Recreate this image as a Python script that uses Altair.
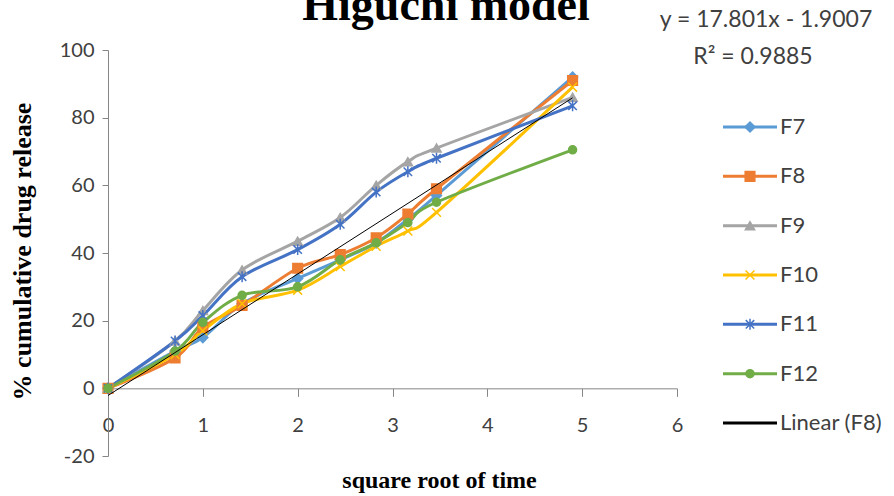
import altair as alt
import pandas as pd

# square root of time
x_vals = [0, 0.707, 1, 1.414, 2, 2.449, 2.828, 3.162, 3.464, 4.899]

F7 = [0, 11, 15, 25, 32.5, 38, 43, 50, 57, 92]
F8 = [0, 9, 18, 24.5, 35.5, 39.5, 44.5, 51.5, 59, 91]
F9 = [0, 14, 23, 35, 43.5, 50.5, 60, 67, 71, 86]
F10 = [0, 10, 17, 25, 29, 36, 42, 46.5, 52, 89]
F11 = [0, 14, 21.5, 33, 41, 48.5, 58, 64, 68, 83.5]
F12 = [0, 11, 19.5, 27.5, 30, 38, 43, 49, 55, 70.5]

series_names = ["F7", "F8", "F9", "F10", "F11", "F12"]
series_values = [F7, F8, F9, F10, F11, F12]
colors = ["#5B9BD5", "#ED7D31", "#A5A5A5", "#FFC000", "#4472C4", "#70AD47"]
shapes = ["diamond", "square", "triangle-up",
          "M-1,-1L1,1M1,-1L-1,1",
          "M-1,-1L1,1M1,-1L-1,1M0,-1.3L0,1.3",
          "circle"]
sizes = [100, 64, 85, 110, 120, 85]

legend_names = series_names + ["Linear (F8)"]
legend_colors = colors + ["#000000"]
legend_widths = [3, 3, 3, 3, 3, 3, 1]

eq_text = "y = 17.801x - 1.9007"
r2_text = "R² = 0.9885"

x_ticks = [0, 1, 2, 3, 4, 5, 6]
y_ticks = [-20, 0, 20, 40, 60, 80, 100]

rows = []
for name, vals in zip(series_names, series_values):
    for xv, yv in zip(x_vals, vals):
        rows.append({"series": name, "x": xv, "y": yv})
df = pd.DataFrame(rows)
leg_df = pd.DataFrame({"name": legend_names})

W, H = 569, 406
LABEL_FONT = "Lato"
AXIS_COLOR = "#868686"
TEXT_COLOR = "#404040"

color_scale = alt.Scale(domain=series_names, range=colors)
shape_scale = alt.Scale(domain=series_names, range=shapes)
size_scale = alt.Scale(domain=series_names, range=sizes)

X = alt.X("x:Q", scale=alt.Scale(domain=[0, 6], nice=False, zero=False),
          axis=alt.Axis(values=x_ticks, offset=-67.67, labelExpr="datum.value + ''", grid=False,
                        domainColor=AXIS_COLOR, tickColor=AXIS_COLOR, tickSize=8,
                        labelFont=LABEL_FONT, labelFontSize=20, labelColor=TEXT_COLOR,
                        labelBaseline="middle", labelPadding=29, labelFlush=False,
                        title="square root of time", titleFont="Liberation Serif",
                        titleFontWeight="bold", titleFontSize=24, titleColor="#000000",
                        titleX=331, titleY=92, titleAlign="center", titleBaseline="middle"))
Y = alt.Y("y:Q", scale=alt.Scale(domain=[-20, 100], nice=False, zero=False),
          axis=alt.Axis(values=y_ticks, labelExpr="datum.value + ''", grid=False,
                        domainColor=AXIS_COLOR, tickColor=AXIS_COLOR, tickSize=6,
                        labelFont=LABEL_FONT, labelFontSize=20, labelColor=TEXT_COLOR,
                        labelPadding=8,
                        title="% cumulative drug release", titleFont="Liberation Serif",
                        titleFontWeight="bold", titleFontSize=26, titleColor="#000000",
                        titleX=-86, titleY=201, titleAngle=270, titleAlign="center",
                        titleBaseline="middle"))

lines = alt.Chart(df).mark_line(interpolate="cardinal", strokeWidth=3).encode(
    x=X, y=Y,
    color=alt.Color("series:N", scale=color_scale, legend=None),
)
points = alt.Chart(df).mark_point(filled=True, strokeWidth=1.5, opacity=1).encode(
    x="x:Q", y="y:Q",
    fill=alt.Fill("series:N", scale=color_scale, legend=None),
    stroke=alt.Stroke("series:N", scale=color_scale, legend=None),
    shape=alt.Shape("series:N", scale=shape_scale, legend=None),
    size=alt.Size("series:N", scale=size_scale, legend=None),
)
trend = alt.Chart(df).transform_filter(alt.datum.series == "F8").transform_regression(
    "x", "y").mark_line(color="#000000", strokeWidth=1).encode(x="x:Q", y="y:Q")

one = alt.Data(values=[{}])
title = alt.Chart(one).mark_text(text="Higuchi model", font="Liberation Serif", fontWeight="bold",
                                 fontSize=46, align="center", baseline="alphabetic",
                                 color="#000000").encode(x=alt.value(338), y=alt.value(-30))
eq = alt.Chart(one).mark_text(text=eq_text, font=LABEL_FONT, fontSize=23, align="center",
                              baseline="middle", color=TEXT_COLOR).encode(
    x=alt.value(658), y=alt.value(-30))
r2 = alt.Chart(one).mark_text(text=r2_text, font=LABEL_FONT, fontSize=23, align="center",
                              baseline="middle", color=TEXT_COLOR).encode(
    x=alt.value(645), y=alt.value(7))

main = alt.layer(lines, points, trend, title, eq, r2)

# manual legend
LY = alt.Y("name:N", sort=legend_names,
           scale=alt.Scale(domain=legend_names, range=[77, 373], type="point", padding=0),
           axis=None)
leg_color = alt.Scale(domain=legend_names, range=legend_colors)
leg_lines = alt.Chart(leg_df).mark_rule().encode(
    x=alt.value(615), x2=alt.value(669), y=LY,
    color=alt.Color("name:N", scale=leg_color, legend=None),
    strokeWidth=alt.StrokeWidth("name:N", scale=alt.Scale(domain=legend_names, range=legend_widths),
                                legend=None),
)
leg_points = alt.Chart(leg_df).transform_filter(alt.datum.name != "Linear (F8)").mark_point(
    filled=True, strokeWidth=1.5, opacity=1).encode(
    x=alt.value(642), y=LY,
    fill=alt.Fill("name:N", scale=color_scale, legend=None),
    stroke=alt.Stroke("name:N", scale=color_scale, legend=None),
    shape=alt.Shape("name:N", scale=shape_scale, legend=None),
    size=alt.Size("name:N", scale=size_scale, legend=None),
)
leg_text = alt.Chart(leg_df).mark_text(font=LABEL_FONT, fontSize=22, align="left",
                                       baseline="middle", color=TEXT_COLOR).encode(
    x=alt.value(672), y=LY, text="name:N")
legend = alt.layer(leg_lines, leg_points, leg_text)

chart = alt.layer(main, legend).resolve_scale(
    x="independent", y="independent", color="independent", fill="independent",
    stroke="independent", shape="independent", size="independent", strokeWidth="independent"
).properties(
    width=W, height=H,
    autosize=alt.AutoSizeParams(type="none"),
    padding={"left": 108, "top": 50, "right": 217, "bottom": 40},
).configure_view(stroke=None)

chart.save("out.html", embed_options={"renderer": "svg", "actions": False})
